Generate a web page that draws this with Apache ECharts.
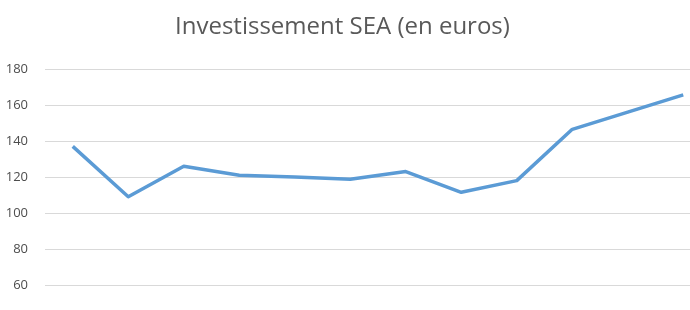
<!DOCTYPE html>
<html>
<head>
<meta charset="utf-8">
<script src="https://cdn.jsdelivr.net/npm/echarts@6/dist/echarts.min.js"></script>
<style>html,body{margin:0;padding:0;background:#fff;}#c{width:690px;height:310px;}</style>
</head>
<body>
<div id="c"></div>
<script>
const title = "Investissement SEA (en euros)";
const categories = ["1","2","3","4","5","6","7","8","9","10","11","12"];
const values = [137, 109, 126, 121, 120, 118.7, 123, 111.5, 118, 146.5, 156, 165.6];
const yMin = 60, yMax = 180, yStep = 20;

const chart = echarts.init(document.getElementById('c'));
chart.setOption({
  animation: false,
  backgroundColor: '#ffffff',
  title: {
    text: title,
    left: 170,
    top: 10,
    textStyle: {fontFamily: 'Open Sans', fontSize: 24, fontWeight: 'normal', color: '#595959'}
  },
  grid: {left: 45, top: 69, width: 666, bottom: 25, containLabel: false, outerBoundsMode: 'none'},
  xAxis: {
    type: 'category',
    data: categories,
    boundaryGap: true,
    axisLine: {show: false},
    axisTick: {show: false},
    axisLabel: {show: false},
    splitLine: {show: false}
  },
  yAxis: {
    type: 'value',
    min: yMin, max: yMax, interval: yStep,
    axisLine: {show: false},
    axisTick: {show: false},
    axisLabel: {color: '#4d4d4d', fontSize: 13, fontFamily: 'Open Sans', margin: 17},
    splitLine: {lineStyle: {color: '#d9d9d9', width: 1}}
  },
  series: [{
    type: 'line',
    data: values,
    symbol: 'none',
    lineStyle: {color: '#5b9bd5', width: 3.5, join: 'round'},
    itemStyle: {color: '#5b9bd5'}
  }]
});
</script>
</body>
</html>
